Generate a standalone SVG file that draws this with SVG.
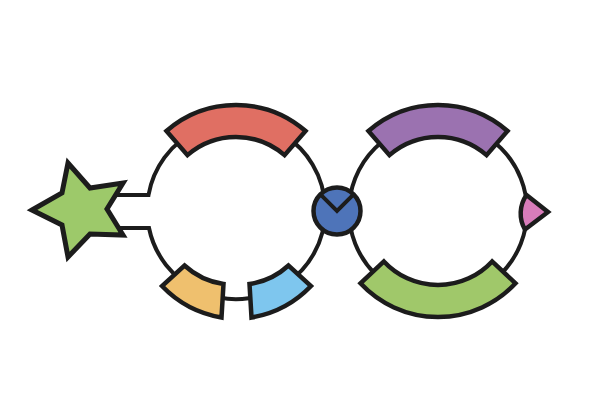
<svg xmlns="http://www.w3.org/2000/svg" width="600" height="400" viewBox="0 0 600 400">
<style>
.ln{fill:none;stroke:#1c1c1c;stroke-width:4}
.sh{stroke:#1c1c1c;stroke-width:4.5;stroke-linejoin:miter}
</style>
<rect width="600" height="400" fill="#ffffff"/>
<g id="connectors">
<path class="ln" d="M 110,195 H 148.5 A 89 89 0 1 1 149,228 H 110"/>
<circle class="ln" cx="438" cy="211" r="89"/>
</g>
<g id="star"><path class="sh" style="stroke-width:5" fill="#9DC96A" d="M32,210 L62,193 L68,163 L90,188 L123,183 L107,209 L123,235 L90,234 L68,257 L62,225 Z"/></g>
<g id="red"><path class="sh" fill="#E06F63" d="M 166.45,131 A 106 106 0 0 1 305.55,131 L 284.55,155.15 A 74 74 0 0 0 187.45,155.15 Z"/></g>
<g id="orange"><path class="sh" fill="#EFC06E" d="M 221.5,317.5 A 107 107 0 0 1 162,286 L 184.5,265.5 A 73 73 0 0 0 223.5,284 Z"/></g>
<g id="lightblue"><path class="sh" fill="#7EC6EE" d="M 311,286 A 107 107 0 0 1 251.5,317.5 L 249.5,284 A 73 73 0 0 0 288.5,265.5 Z"/></g>
<g id="purple"><path class="sh" fill="#9B72B0" d="M 368.45,131 A 106 106 0 0 1 507.55,131 L 486.55,155.15 A 74 74 0 0 0 389.45,155.15 Z"/></g>
<g id="green"><path class="sh" fill="#A0C86A" d="M 515.53,283.29 A 106 106 0 0 1 360.47,283.29 L 383.88,261.47 A 74 74 0 0 0 492.12,261.47 Z"/></g>
<g id="pink"><path class="sh" fill="#D87CBA" d="M 526.5,195 L 548,212 L 525,229.5 A 32 32 0 0 1 526.5,195 Z"/></g>
<g id="node"><circle class="sh" fill="#4E74B9" cx="337" cy="211" r="23.5"/><path class="ln" d="M 320.4,194.4 L 337,211 L 353.6,194.4"/></g>
</svg>
